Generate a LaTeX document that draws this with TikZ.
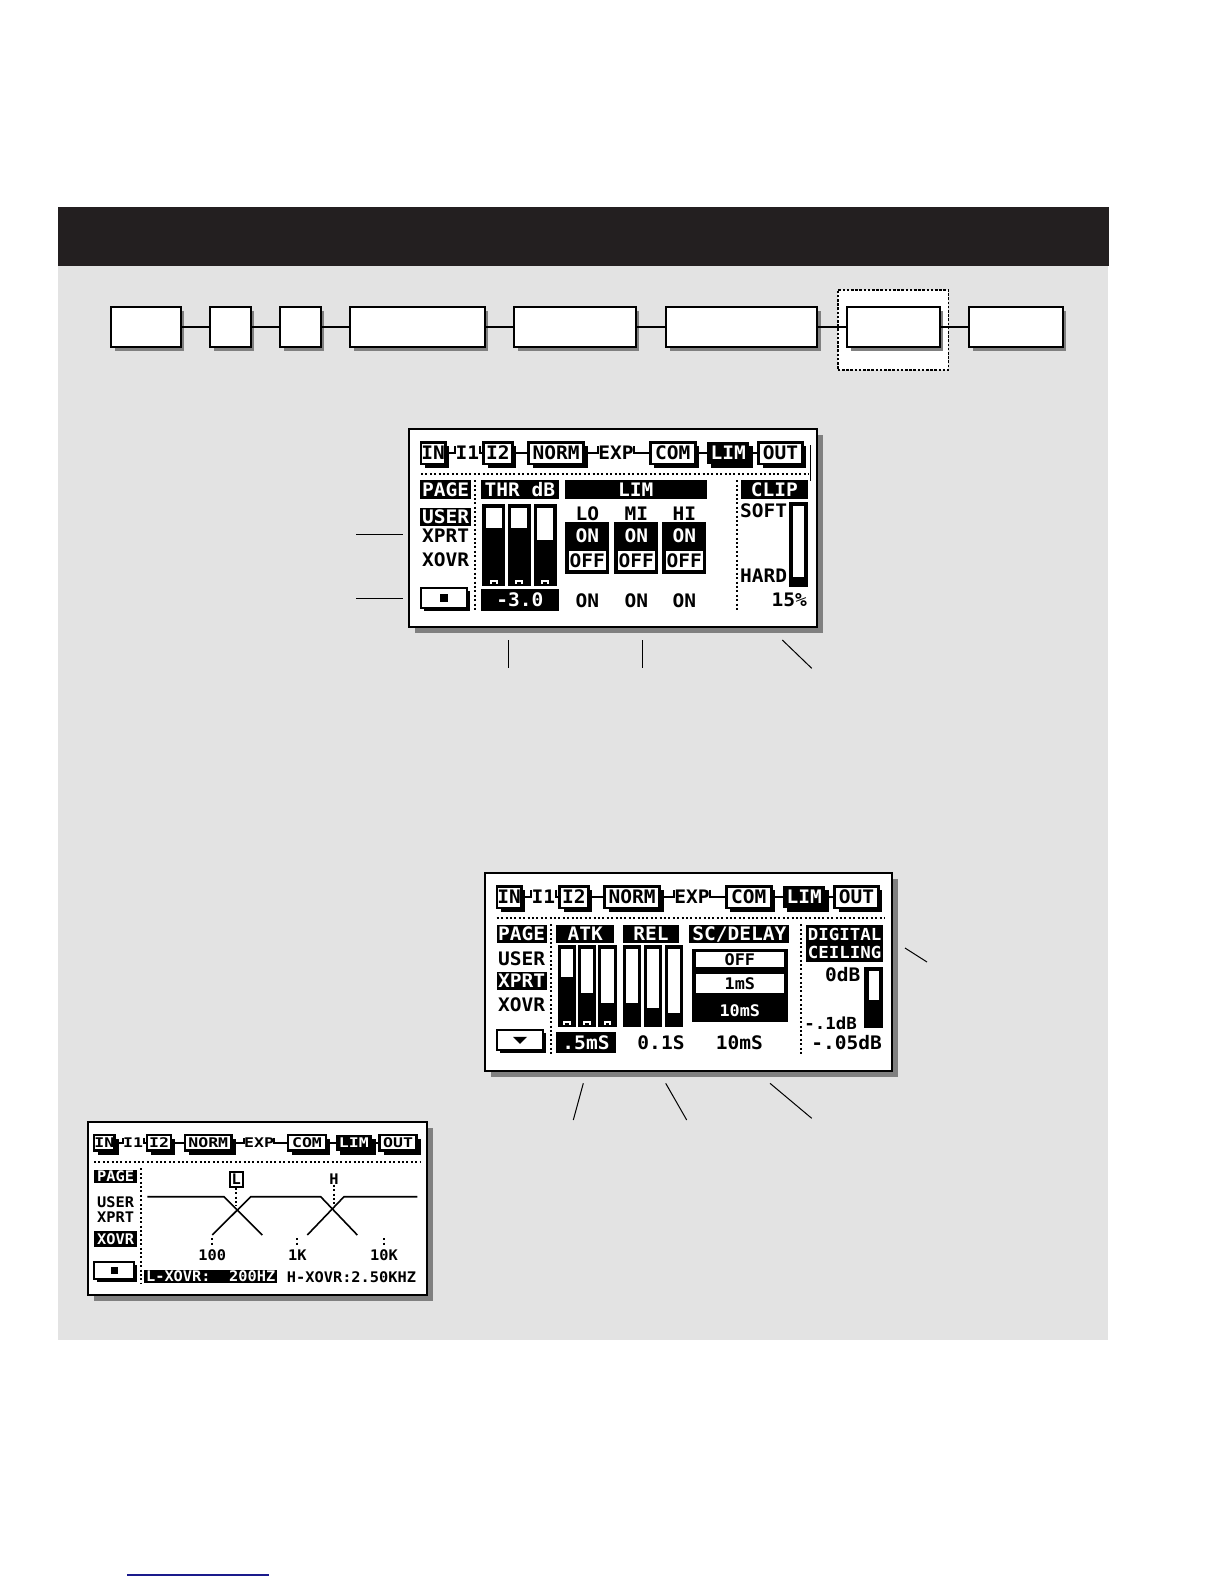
\documentclass[tikz,border=0pt]{standalone}
\usepackage{fontspec}
\usepackage{xcolor}
\usepackage{tikz}
\usetikzlibrary{positioning,fit,shadows,calc}
\newfontfamily\lcdfont{DejaVu Sans Mono}[FakeStretch=1.05]
\definecolor{mandark}{HTML}{231F20}
\definecolor{mangray}{HTML}{E3E3E3}
\definecolor{manshadow}{HTML}{808080}
\definecolor{manlink}{HTML}{1A1A8C}
\tikzset{
  lcd/.style={font=\lcdfont\bfseries\fontsize{9.3}{9.3}\selectfont,inner sep=0pt},
  lcdsmall/.style={font=\lcdfont\bfseries\fontsize{7.3}{7.3}\selectfont,inner sep=0pt},
  lcdnarrow/.style={font=\lcdfont\bfseries\fontsize{8.3}{9.2}\selectfont},
  lcdopt/.style={font=\lcdfont\bfseries\fontsize{8}{8}\selectfont},
  block/.style={draw=black,line width=1pt,fill=white,inner sep=0pt,drop shadow={shadow xshift=1.7pt,shadow yshift=-1.7pt,fill=manshadow,opacity=1}},
  focusbox/.style={draw=black,line width=0.8pt,dash pattern=on 1.3pt off 0.8pt,fill=white,inner sep=0pt},
  wire/.style={draw=black,line width=1pt},
  screen/.style={draw=black,line width=1pt,fill=white,inner sep=0pt,drop shadow={shadow xshift=3pt,shadow yshift=-3pt,fill=manshadow,opacity=1}},
  inv/.style={fill=black,inner sep=0pt},
  wbox/.style={draw=black,line width=1pt,fill=white,inner sep=0pt},
  btn/.style={wbox,drop shadow={shadow xshift=1.5pt,shadow yshift=-1.5pt,fill=black,opacity=1}},
  tabbox/.style={wbox,line width=1.2pt,drop shadow={shadow xshift=2pt,shadow yshift=-2pt,fill=black,opacity=1}},
  tabsel/.style={inv,text=white,drop shadow={shadow xshift=2pt,shadow yshift=-2pt,fill=black,opacity=1}},
  tabtext/.style={inner sep=0pt},
  lcddots/.style={line width=1pt,dash pattern=on 1pt off 1.2pt},
  leader/.style={draw=black,line width=0.5pt},
}
% inverted and framed boxes: box from corners, text on top
\newcommand\ibox[3]{\node[inv,fit={#2}] (#1) {}; \node[text=white] (#1txt) at (#1.center) {#3};}
\newcommand\wtbox[3]{\node[wbox,fit={#2}] (#1) {}; \node (#1txt) at (#1.center) {#3};}
\newcommand\lcdtabs{%
  \foreach \tname/\xa/\xb/\tkind in {IN/11.7/36/tabbox,I1/46/70/tabtext,I2/74.3/103/tabbox,NORM/119.3/174.3/tabbox,EXP/189.3/224.3/tabtext,COM/241/286/tabbox,LIM/297.7/340/tabsel,OUT/349.3/393/tabbox}
    \node[\tkind,minimum width={(\xb-\xa)*0.5pt},minimum height=10.75pt] (t\tname) at ({(\xa+\xb)/2},23.75) {\tname};
  \draw[wire] (tIN.east) -| ([yshift=-2pt]tI1.north west);
  \draw[wire] ([yshift=-2pt]tI1.north east) |- (tI2.west);
  \draw[wire] (tI2.east) -- (tNORM.west);
  \draw[wire] (tNORM.east) -| ([yshift=-2pt]tEXP.north west);
  \draw[wire] ([yshift=-2pt]tEXP.north east) |- (tCOM.west);
  \draw[wire] (tCOM.east) -- (tLIM.west);
  \draw[wire] (tLIM.east) -- (tOUT.west);
}

\begin{document}
\begin{tikzpicture}[x=0.5pt,y=-0.5pt]
  \path[use as bounding box,fill=white] (0,0) rectangle (1224,1584);
  \fill[mandark] (58,206.7) rectangle (1109,265.7);
  \fill[mangray] (58,265.7) rectangle (1108.3,1340);

  \node[focusbox,fit={(837.7,289.7) (948.3,370)}] (focus) {};
  \foreach \bn/\xa/\xb in {1/111.3/180.7,2/210.3/250.7,3/280.3/320.7,4/350.3/484.7,5/514.3/635.7,6/666.3/817.3,7/847.3/939.7,8/969.3/1062.7}
    \node[block,fit={(\xa,307.3) (\xb,347.3)}] (b\bn) {};
  \foreach \a/\b in {1/2,2/3,3/4,4/5,5/6,6/7,7/8}
    \draw[wire] (b\a.east) -- (b\b.west);

  % limiter page
  \begin{scope}[shift={(409.3,429.3)},name prefix=s1-,lcd]
    \node[screen,fit={(0,0) (407.4,197.4)}] (frame) {};
    \lcdtabs
    \draw[line width=0.5pt] (401,16) -- (401,52);
    \draw[lcddots] (11.7,44.3) -- (399,44.3);
    \draw[lcddots] (66,51) -- (66,183);
    \draw[lcddots] (327.7,51) -- (327.7,183);
    \ibox{page}{(11,51) (61.7,69.3)}{PAGE}
    \ibox{user}{(11,78.3) (61.7,97)}{USER}
    \node (xprt) at (36.3,106.5) {XPRT};
    \node (xovr) at (36.3,130) {XOVR};
    \node[btn,fit={(11.7,158.7) (58,179)}] (button) {};
    \fill (30.9,164.9) rectangle (38.9,172.9);
    \ibox{thrhead}{(71.7,51) (149.3,69.3)}{THR dB}
    \foreach \xa/\lvl in {72.7/98.3,98.3/98.3,124.3/110.3}{
      \fill (\xa,74.3) rectangle ++(23,82.4);
      \fill[white] (\xa+3.5,78.3) rectangle (\xa+19.5,\lvl);
      \fill[white] (\xa+7.5,150.5) rectangle (\xa+15.5,154.5);
      \fill (\xa+9.5,152.5) rectangle (\xa+13.5,154.5);
    }
    \ibox{thrval}{(71.7,159.3) (149.3,181.7)}{-3.0}
    \ibox{limhead}{(155.3,51) (297.7,69.3)}{LIM}
    \foreach \bx/\bname in {178/LO,227/MI,275/HI}{
      \node (band\bname) at (\bx,84.3) {\bname};
      \ibox{sw\bname}{(\bx-22,92.7) (\bx+22,144.3)}{}
      \node[text=white] (on\bname) at (\bx,106.5) {ON};
      \wtbox{off\bname}{(\bx-19.5,121) (\bx+19.5,141.5)}{OFF}
      \node (val\bname) at (\bx,171) {ON};
    }
    \ibox{cliphead}{(331.7,51) (398.3,69.3)}{CLIP}
    \node (soft) at (354.3,81.7) {SOFT};
    \node (hard) at (354.3,146) {HARD};
    \fill (379.3,72.7) rectangle (398.3,157.7);
    \fill[white] (383.3,77) rectangle (394.3,147.7);
    \node[anchor=east] (clipval) at (398,171) {15\%};
  \end{scope}

  % attack / release page
  \begin{scope}[shift={(485.3,873.3)},name prefix=s2-,lcd]
    \node[screen,fit={(0,0) (407,197.7)}] (frame) {};
    \lcdtabs
    \draw[lcddots] (11.4,45) -- (399,45);
    \draw[lcddots] (65.7,51) -- (65.7,183);
    \draw[lcddots] (315.7,51) -- (315.7,183);
    \ibox{page}{(11.4,51.7) (61.4,70)}{PAGE}
    \node (user) at (36.4,85) {USER};
    \ibox{xprt}{(11.4,98.4) (61.4,116.7)}{XPRT}
    \node (xovr) at (36.4,131.7) {XOVR};
    \node[btn,fit={(11.4,156.7) (58,177)}] (button) {};
    \fill (27.7,163.5) -- (41.7,163.5) -- (34.7,170.5) -- cycle;
    \ibox{atkhead}{(70.7,51.7) (129,70)}{ATK}
    \foreach \xa/\lvl in {72.4/103.3,92.4/120,113/130}{
      \fill (\xa,71.7) rectangle ++(18.3,81.6);
      \fill[white] (\xa+3,75.5) rectangle (\xa+15.3,\lvl);
      \fill[white] (\xa+5.5,147.5) rectangle (\xa+12.8,151.5);
      \fill (\xa+7.5,149.5) rectangle (\xa+10.8,151.5);
    }
    \ibox{atkval}{(70.7,158.4) (130.7,180)}{.5mS}
    \ibox{relhead}{(137.4,51.7) (194,70)}{REL}
    \foreach \xa/\lvl in {137.4/130,159/135,179.7/140}{
      \fill (\xa,71.7) rectangle ++(18,81.6);
      \fill[white] (\xa+3,75.5) rectangle (\xa+15,\lvl);
    }
    \node (relval) at (175.7,169.4) {0.1S};
    \ibox{schead}{(204,51.7) (304,70)}{SC/DELAY}
    \node[inv,fit={(206.7,75.5) (302.4,148.4)}] (scframe) {};
    \node[fill=white,fit={(210.2,79) (298.9,93.5)}] (scoff) {};
    \node[lcdopt] (scofftxt) at (scoff.center) {OFF};
    \node[fill=white,fit={(210.2,101) (298.9,119.5)}] (sc1) {};
    \node[lcdopt] (sc1txt) at (sc1.center) {1mS};
    \node[lcdopt,text=white] (sc10) at (254.5,137.5) {10mS};
    \node (scval) at (254,169.4) {10mS};
    \ibox{ceilhead}{(320.7,51.7) (398,88.4)}{}
    \node[lcdnarrow,text=white,align=center] (ceiltxt) at (ceilhead.center) {DIGITAL\\CEILING};
    \node (zero) at (357.4,101.7) {0dB};
    \fill (379,93.4) rectangle (398,155);
    \fill[white] (384,97.4) rectangle (394,126.7);
    \node[lcdnarrow,anchor=east] (tenth) at (372,150) {-.1dB};
    \node[anchor=east] (ceilval) at (397,169.4) {-.05dB};
  \end{scope}

  % crossover page
  \begin{scope}[shift={(88,1122.3)},name prefix=s3-,lcdsmall]
    \node[screen,fit={(0,0) (339.3,172.4)}] (frame) {};
    \begin{scope}[shift={(-3.9,3.6)},xscale=0.846,yscale=0.715,transform shape,lcd]
      \lcdtabs
    \end{scope}
    \draw[lcddots] (6,39.4) -- (332,39.4);
    \draw[lcddots] (52.7,46) -- (52.7,162);
    \ibox{page}{(6,47.7) (49.3,61)}{PAGE}
    \node (user) at (27.7,79.4) {USER};
    \node (xprt) at (27.7,94.4) {XPRT};
    \ibox{xovr}{(6,108.7) (49.3,124.4)}{XOVR}
    \node[btn,fit={(6,139.4) (46,157)}] (button) {};
    \fill (22.5,144.7) rectangle (29.5,151.7);
    \draw[line width=0.8pt] (59.3,74.4) -- (136,74.4) -- (174.3,112.7);
    \draw[line width=0.8pt] (124.3,112.7) -- (162.7,74.4) -- (232.7,74.4) -- (269.3,112.7);
    \draw[line width=0.8pt] (219.3,112.7) -- (256,74.4) -- (329.3,74.4);
    \wtbox{lmark}{(141.5,49.4) (155,64.4)}{L}
    \draw[lcddots] (lmark.south) -- ++(0,18);
    \node (hmark) at (246,56.7) {H};
    \draw[lcddots] (hmark.south) -- ++(0,20);
    \foreach \fx/\flab in {124.3/100,209.3/1K,296/10K}{
      \draw[lcddots] (\fx,116) -- (\fx,122.7);
      \node (f\flab) at (\fx,132.7) {\flab};
    }
    \ibox{lxovr}{(56,147.7) (189.3,161)}{L-XOVR:~~200HZ}
    \node (hxovr) at (263.5,154.4) {H-XOVR:2.50KHZ};
  \end{scope}

  \coordinate (userlead) at (356,534.3);
  \coordinate (btnlead) at (356,598.3);
  \draw[leader] (userlead) -- ++(46.7,0);
  \draw[leader] (btnlead) -- ++(46.7,0);
  \coordinate (thrlead) at (508.3,640);
  \coordinate (limlead) at (642.3,640);
  \coordinate (cliplead) at (782.3,640);
  \draw[leader] (thrlead) -- ++(0,28.3);
  \draw[leader] (limlead) -- ++(0,28.3);
  \draw[leader] (cliplead) -- ++(29.4,28.3);
  \coordinate (ceillead) at (905,948);
  \coordinate (atklead) at (583.3,1083.3);
  \coordinate (rellead) at (665.7,1083.3);
  \coordinate (sclead) at (770,1083.3);
  \draw[leader] (ceillead) -- ++(22,14);
  \draw[leader] (atklead) -- ++(-10,36.7);
  \draw[leader] (rellead) -- ++(21,36.7);
  \draw[leader] (sclead) -- ++(41.7,35);

  \draw[manlink,line width=0.7pt] (127,1575) -- (269,1575);
\end{tikzpicture}
\end{document}
